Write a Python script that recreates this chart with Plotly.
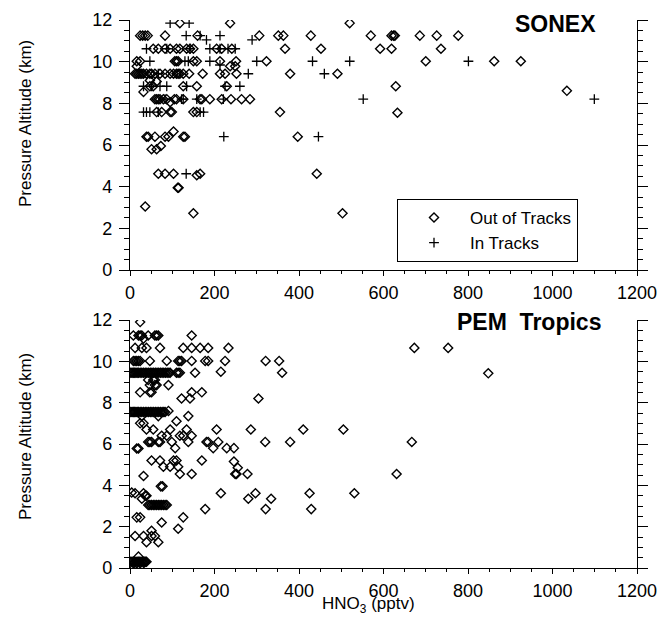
import plotly.graph_objects as go

# ---------------- SONEX data ----------------
sonex_out_x = [118, 237, 520,
               24, 30, 36, 42, 83, 160, 306, 351, 363, 428, 570, 619, 624, 627, 686, 726, 777,
               55, 67, 83, 95, 110, 118, 134, 142, 150, 205, 217, 241, 367, 452, 592, 619, 736,
               16, 24, 106, 110, 114, 150, 158, 213, 251, 323, 700, 862, 925,
               16, 237, 249,
               12, 16, 20, 24, 28, 32, 39, 47, 51, 59, 71, 83, 95, 103, 110, 114, 118, 126, 140, 172, 213, 225, 252, 379, 491,
               47, 63,
               47, 55, 126, 158, 229, 629,
               32, 1034,
               59, 63, 67, 71, 79, 87, 105, 110, 126, 166, 170, 189, 217, 239, 264, 284,
               95,
               63, 75, 95, 99, 150, 158, 355, 633,
               103,
               39, 43, 59, 83, 91, 126, 130, 397,
               73, 51, 63,
               67, 83, 103, 158, 166, 442,
               113, 115,
               36,
               150, 503]
sonex_out_y = [11.85, 11.85, 11.85,
               11.25, 11.25, 11.25, 11.25, 11.25, 11.25, 11.25, 11.25, 11.25, 11.25, 11.25, 11.25, 11.25, 11.25, 11.25, 11.25, 11.25,
               10.62, 10.62, 10.62, 10.62, 10.62, 10.62, 10.62, 10.62, 10.62, 10.62, 10.62, 10.62, 10.62, 10.62, 10.62, 10.62, 10.62,
               10.02, 10.02, 10.02, 10.02, 10.02, 10.02, 10.02, 10.02, 10.02, 10.02, 10.02, 10.02, 10.02,
               9.78, 9.78, 9.78,
               9.42, 9.42, 9.42, 9.42, 9.42, 9.42, 9.42, 9.42, 9.42, 9.42, 9.42, 9.42, 9.42, 9.42, 9.42, 9.42, 9.42, 9.42, 9.42, 9.42, 9.42, 9.42, 9.42, 9.42, 9.42,
               9.1, 9.05,
               8.82, 8.82, 8.82, 8.82, 8.82, 8.82,
               8.55, 8.6,
               8.2, 8.2, 8.2, 8.2, 8.2, 8.2, 8.2, 8.2, 8.2, 8.2, 8.2, 8.2, 8.2, 8.2, 8.2, 8.2,
               8.05,
               7.58, 7.58, 7.58, 7.58, 7.58, 7.58, 7.58, 7.55,
               6.65,
               6.4, 6.4, 6.4, 6.4, 6.4, 6.4, 6.4, 6.4,
               5.95, 5.8, 5.8,
               4.62, 4.62, 4.62, 4.55, 4.62, 4.62,
               3.95, 3.95,
               3.05,
               2.72, 2.72]

sonex_in_x = [95, 140,
              133, 166, 213,
              181, 289,
              39, 87, 142, 189, 213, 232, 249,
              47, 130, 138, 189, 300, 432, 520, 801,
              213,
              67, 280, 460,
              32, 51, 71, 87, 134, 225, 260,
              83, 122, 126, 158, 221, 552, 1099,
              32, 39, 47, 67, 166, 174,
              222, 446,
              133]
sonex_in_y = [11.85, 11.85,
              11.25, 11.25, 11.25,
              11.05, 11.05,
              10.62, 10.62, 10.62, 10.62, 10.62, 10.62, 10.62,
              10.02, 10.02, 10.02, 10.02, 10.02, 10.02, 10.02, 10.02,
              9.84,
              9.42, 9.42, 9.42,
              8.82, 8.82, 8.82, 8.82, 8.82, 8.82, 8.82,
              8.2, 8.2, 8.2, 8.2, 8.2, 8.2, 8.2,
              7.58, 7.58, 7.58, 7.58, 7.58, 7.58,
              6.4, 6.4,
              4.62]

# ---------------- PEM Tropics data ----------------
pem_x = [24,
         8, 20, 24, 28, 43, 59, 63, 67, 146,
         32,
         12, 28, 39, 71, 126, 146, 166, 185, 233, 673, 753,
         8, 12, 16, 20, 24, 47, 87, 114, 118, 122, 146, 178, 185, 225, 321, 353,
         2, 5, 8, 11, 14, 17, 20, 24, 28, 32, 36, 40, 44, 48, 52, 56, 60, 64, 68, 72, 76, 80, 84, 88, 92, 95, 110, 114, 118, 154, 215, 360, 848,
         43, 55, 59,
         47, 59, 63, 91,
         24, 47, 51, 146, 170,
         122, 142, 304,
         2, 5, 8, 11, 14, 17, 20, 24, 28, 32, 36, 40, 44, 48, 52, 56, 60, 64, 68, 72, 76, 80, 83, 91,
         28, 67, 138,
         24, 32, 110,
         39, 55, 95, 134, 205, 286, 410, 505,
         75, 87, 118, 126, 146,
         43, 47, 51, 67, 71, 99, 138, 181, 185, 209, 320, 379, 667,
         16, 20, 107, 197, 229, 246,
         51, 71, 103, 110, 170, 246,
         79, 95, 114, 255,
         118, 146, 249, 252, 278, 631,
         32,
         73, 77,
         4, 12, 32, 215, 297, 425, 531,
         36, 39,
         28, 280, 334,
         43, 47, 51, 55, 59, 63, 67, 71, 75, 79, 83, 87,
         178, 321, 429,
         16, 24, 126,
         75,
         114,
         51,
         12, 32, 51, 59,
         39, 67,
         20,
         2, 5, 8, 11, 14, 17, 20, 23, 26, 29, 32, 36, 39,
         5, 12, 20, 28, 35]
pem_y = [11.9,
         11.25, 11.25, 11.25, 11.25, 11.25, 11.25, 11.25, 11.25, 11.25,
         11.1,
         10.65, 10.65, 10.65, 10.65, 10.65, 10.65, 10.65, 10.65, 10.65, 10.65, 10.65,
         10.02, 10.02, 10.02, 10.02, 10.02, 10.02, 10.02, 10.02, 10.02, 10.02, 10.02, 10.02, 10.02, 10.02, 10.02, 10.02,
         9.45, 9.45, 9.45, 9.45, 9.45, 9.45, 9.45, 9.45, 9.45, 9.45, 9.45, 9.45, 9.45, 9.45, 9.45, 9.45, 9.45, 9.45, 9.45, 9.45, 9.45, 9.45, 9.45, 9.45, 9.45, 9.45, 9.45, 9.45, 9.45, 9.45, 9.5, 9.45, 9.42,
         9.1, 9.1, 9.1,
         8.85, 8.85, 8.85, 8.85,
         8.5, 8.5, 8.5, 8.5, 8.5,
         8.2, 8.2, 8.2,
         7.55, 7.55, 7.55, 7.55, 7.55, 7.55, 7.55, 7.55, 7.55, 7.55, 7.55, 7.55, 7.55, 7.55, 7.55, 7.55, 7.55, 7.55, 7.55, 7.55, 7.55, 7.55, 7.55, 7.6,
         7.35, 7.35, 7.35,
         7.0, 7.0, 7.1,
         6.7, 6.7, 6.7, 6.7, 6.7, 6.7, 6.7, 6.7,
         6.4, 6.4, 6.4, 6.4, 6.4,
         6.1, 6.1, 6.1, 6.1, 6.1, 6.1, 6.1, 6.1, 6.1, 6.1, 6.1, 6.1, 6.1,
         5.78, 5.78, 5.8, 5.8, 5.8, 5.8,
         5.2, 5.2, 5.2, 5.2, 5.2, 5.15,
         4.9, 4.9, 4.9, 4.85,
         4.55, 4.55, 4.55, 4.55, 4.55, 4.55,
         4.45,
         3.95, 3.95,
         3.65, 3.62, 3.62, 3.62, 3.62, 3.62, 3.62,
         3.5, 3.5,
         3.35, 3.35, 3.35,
         3.05, 3.05, 3.05, 3.05, 3.05, 3.05, 3.05, 3.05, 3.05, 3.05, 3.05, 3.05,
         2.85, 2.85, 2.85,
         2.45, 2.45, 2.45,
         2.2,
         1.9,
         1.8,
         1.55, 1.55, 1.55, 1.55,
         1.25, 1.25,
         0.55,
         0.3, 0.3, 0.3, 0.3, 0.3, 0.3, 0.3, 0.3, 0.3, 0.3, 0.3, 0.3, 0.3,
         0.15, 0.15, 0.15, 0.15, 0.3]

x_ticks = [0, 200, 400, 600, 800, 1000, 1200]
y_ticks = [0, 2, 4, 6, 8, 10, 12]

FONT = "Liberation Sans, Arial, Helvetica, sans-serif"
diamond = dict(symbol="diamond-open", size=7, color="black", line=dict(width=1.4, color="black"))
cross = dict(symbol="cross-thin-open", size=7, color="black", line=dict(width=1.3, color="black"))

fig = go.Figure()
fig.add_trace(go.Scatter(x=sonex_out_x, y=sonex_out_y, mode="markers", marker=diamond,
                         name="Out of Tracks", xaxis="x", yaxis="y"))
fig.add_trace(go.Scatter(x=sonex_in_x, y=sonex_in_y, mode="markers", marker=cross,
                         name="In Tracks", xaxis="x", yaxis="y"))
fig.add_trace(go.Scatter(x=pem_x, y=pem_y, mode="markers", marker=diamond,
                         name="PEM Tropics", showlegend=False, xaxis="x2", yaxis="y2"))

# page has an 8 px body margin: figure is sized/positioned to compensate
OFF = 8
top_dom = [(568 - 270) / 548, 1.0]
bot_dom = [0.0, (568 - 320) / 548]

xcommon = dict(range=[0, 1200], tickvals=x_ticks, showline=True, linecolor="black", linewidth=1.2,
               ticks="outside", ticklen=5, tickwidth=1, tickcolor="black",
               minor=dict(dtick=50, ticklen=3, ticks="outside", tickcolor="black", tickwidth=1),
               showgrid=False, zeroline=False, ticklabelstandoff=1, automargin=False,
               tickfont=dict(family=FONT, size=18, color="black"))
ycommon = dict(range=[0, 12], tickvals=y_ticks, showline=True, linecolor="black", linewidth=1.2,
               ticks="outside", ticklen=10, tickwidth=1, tickcolor="black", mirror="ticks",
               minor=dict(dtick=0.5, ticklen=5, ticks="outside", tickcolor="black", tickwidth=1),
               showgrid=False, zeroline=False, ticklabelstandoff=3, automargin=False,
               tickfont=dict(family=FONT, size=18, color="black"))

fig.update_layout(
    template="none",
    width=670 - OFF, height=617 - OFF,
    margin=dict(l=130 - OFF, r=33, t=20 - OFF, b=49, autoexpand=False),
    paper_bgcolor="white", plot_bgcolor="white",
    xaxis=dict(domain=[0, 1], anchor="y", **xcommon),
    yaxis=dict(domain=top_dom, anchor="x", **ycommon),
    xaxis2=dict(domain=[0, 1], anchor="y2", **xcommon),
    yaxis2=dict(domain=bot_dom, anchor="x2", **ycommon),
    legend=dict(x=(397 - 130) / 507, y=(568 - 199) / 548, xanchor="left", yanchor="top",
                bordercolor="black", borderwidth=1, bgcolor="white",
                itemwidth=62, tracegroupgap=0,
                font=dict(family=FONT, size=17, color="black")),
    showlegend=True,
)

annos = [
    dict(text="<b>SONEX</b>", x=598, y=24, font=dict(size=23)),
    dict(text="<b>PEM  Tropics</b>", x=603, y=322, font=dict(size=23)),
]
for a in annos:
    fig.add_annotation(text=a["text"], xref="paper", yref="paper",
                       x=(a["x"] - 130) / 507, y=(568 - a["y"]) / 548,
                       xanchor="right", yanchor="middle", showarrow=False,
                       font=dict(family=FONT, size=a["font"]["size"], color="black"))

for cy in [124, 437]:
    fig.add_annotation(text="Pressure Altitude (km)", xref="paper", yref="paper",
                       x=(25 - 130) / 507, y=(568 - cy) / 548, textangle=-90,
                       xanchor="center", yanchor="middle", showarrow=False,
                       font=dict(family=FONT, size=17, color="black"))

fig.add_annotation(text="HNO<sub>3</sub> (pptv)", xref="paper", yref="paper",
                   x=(368 - 130) / 507, y=(568 - 605) / 548,
                   xanchor="center", yanchor="middle", showarrow=False,
                   font=dict(family=FONT, size=17, color="black"))

fig.write_html("out.html")
